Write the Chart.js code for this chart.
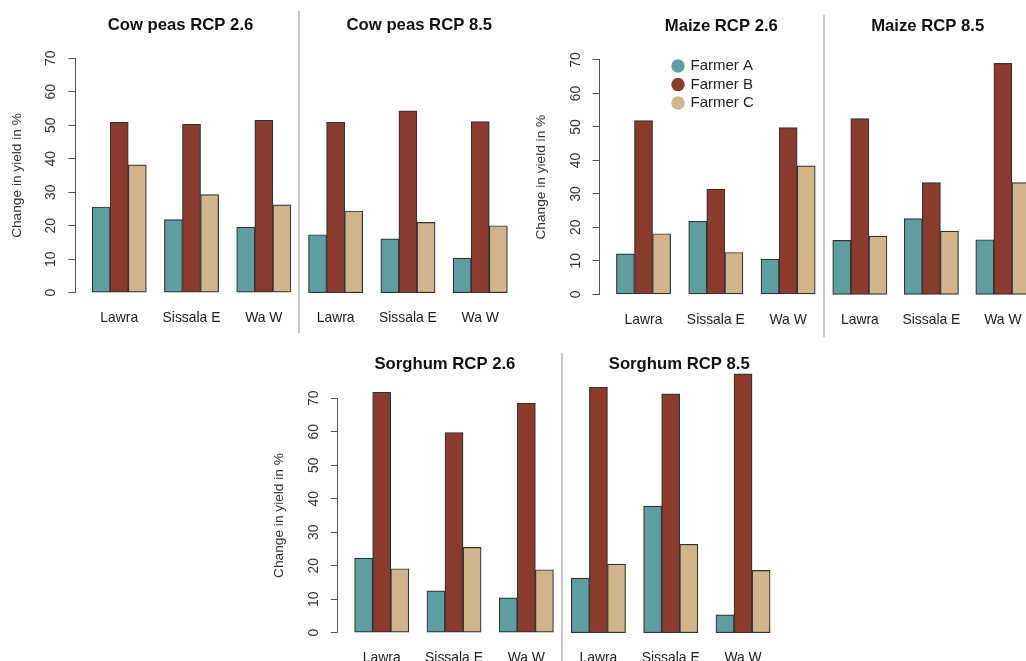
<!DOCTYPE html>
<html>
<head>
<meta charset="utf-8">
<script src="https://cdn.jsdelivr.net/npm/chart.js@4.4.1/dist/chart.umd.min.js"></script>
<style>
html, body { margin: 0; padding: 0; background: #ffffff; overflow: hidden; width: 1026px; height: 661px; position: relative; }
.sep { position: absolute; width: 2px; background: #c8c8c8; }
canvas { position: absolute; }
</style>
</head>
<body>
<div class="sep" style="left:298px;top:11px;height:322px;"></div>
<div class="sep" style="left:823px;top:15px;height:322px;"></div>
<div class="sep" style="left:561px;top:353px;height:308px;"></div>
<script>
// ---------- data ----------
const categories = ['Lawra', 'Sissala E', 'Wa W'];
const farmers = ['Farmer A', 'Farmer B', 'Farmer C'];
const farmerColors = ['#5F9EA0', '#8B3A2E', '#D2B48C'];
const yTickValues = [0, 10, 20, 30, 40, 50, 60, 70];
const yAxisLabel = 'Change in yield in %';

const cowPeas26A = [25.6, 21.8, 19.6];
const cowPeas26B = [50.9, 50.3, 51.5];
const cowPeas26C = [38.2, 29.3, 26.2];

const cowPeas85A = [17.3, 16.1, 10.3];
const cowPeas85B = [50.9, 54.3, 51.1];
const cowPeas85C = [24.4, 21.0, 20.0];

const maize26A = [12.1, 21.8, 10.5];
const maize26B = [51.9, 31.4, 49.8];
const maize26C = [18.1, 12.5, 38.4];

const maize85A = [16.1, 22.6, 16.3];
const maize85B = [52.5, 33.4, 69.0];
const maize85C = [17.4, 18.9, 33.4];

const sorghum26A = [22.3, 12.5, 10.4];
const sorghum26B = [71.8, 59.8, 68.5];
const sorghum26C = [19.1, 25.5, 18.8];

const sorghum85A = [16.3, 37.8, 5.3];
const sorghum85B = [73.3, 71.3, 77.3];
const sorghum85C = [20.5, 26.4, 18.6];

// ---------- layout ----------
const FONT = "'Liberation Sans', Arial, Helvetica, sans-serif";
const UNIT = 18.075;          // px per bar width
const X0 = 0.07;              // x scale start (units)
const GROUP_POS = [2.5, 6.5, 10.5];

const panels = [
  { title: 'Cow peas RCP 2.6', series: [cowPeas26A, cowPeas26B, cowPeas26C],
    x: 5, y: 14, w: 351, h: 320, pl: 0, pt: 0.98, yw: 70.3, tb: 23.26, xh: 41.32 },
  { title: 'Cow peas RCP 8.5', series: [cowPeas85A, cowPeas85B, cowPeas85C],
    x: 291, y: 14, w: 256, h: 320, pl: 0.7, pt: 0.98, yw: 0, tb: 23.26, xh: 41.32 },
  { title: 'Maize RCP 2.6', series: [maize26A, maize26B, maize26C],
    x: 529, y: 15, w: 384, h: 320, pl: 0.6, pt: 0.98, yw: 70, tb: 23.98, xh: 40.7 },
  { title: 'Maize RCP 8.5', series: [maize85A, maize85B, maize85C],
    x: 816, y: 15, w: 223, h: 320, pl: 0.4, pt: 0.98, yw: 0, tb: 23.98, xh: 40.7 },
  { title: 'Sorghum RCP 2.6', series: [sorghum26A, sorghum26B, sorghum26C],
    x: 267, y: 353, w: 355, h: 322, pl: 0.8, pt: 1.28, yw: 70, tb: 23.98, xh: 42.3 },
  { title: 'Sorghum RCP 8.5', series: [sorghum85A, sorghum85B, sorghum85C],
    x: 554, y: 353, w: 250, h: 322, pl: 0.5, pt: 1.28, yw: 0, tb: 23.98, xh: 42.3 }
];

function addCanvas(x, y, w, h) {
  const cv = document.createElement('canvas');
  cv.width = w; cv.height = h;
  cv.style.left = x + 'px'; cv.style.top = y + 'px';
  cv.style.width = w + 'px'; cv.style.height = h + 'px';
  document.body.appendChild(cv);
  return cv;
}

function makePanel(p) {
  const cv = addCanvas(p.x, p.y, p.w, p.h);
  const areaW = p.w - p.pl - p.yw;
  const hasY = p.yw > 0;
  new Chart(cv, {
    type: 'bar',
    data: {
      datasets: farmers.map((name, k) => ({
        label: name,
        data: categories.map((c, i) => ({ x: GROUP_POS[i], y: p.series[k][i] })),
        backgroundColor: farmerColors[k],
        borderColor: '#333333',
        borderWidth: 1.2,
        borderSkipped: false,
        barThickness: UNIT,
        clip: false
      }))
    },
    options: {
      responsive: false,
      animation: false,
      events: [],
      layout: { padding: { left: p.pl, top: p.pt, right: 0, bottom: 0 } },
      plugins: {
        legend: { display: false },
        tooltip: { enabled: false },
        title: {
          display: true, text: p.title, color: '#111111',
          font: { family: FONT, size: 16.7, weight: 'bold', lineHeight: 1.2 },
          padding: { top: 0, bottom: p.tb }
        }
      },
      scales: {
        x: {
          type: 'linear', min: X0, max: X0 + areaW / UNIT, offset: false,
          grid: { display: false, drawTicks: false },
          border: { display: false },
          afterBuildTicks: s => { s.ticks = GROUP_POS.map(v => ({ value: v })); },
          afterFit: s => { s.height = p.xh; },
          ticks: {
            autoSkip: false, minRotation: 0, maxRotation: 0, padding: 17.46,
            color: '#222222', font: { family: FONT, size: 13.9 },
            callback: (v, i) => categories[i]
          }
        },
        y: {
          display: hasY, min: 0, max: 70,
          afterBuildTicks: s => { s.ticks = yTickValues.map(v => ({ value: v })); },
          afterFit: s => { if (hasY) s.width = p.yw; },
          ticks: {
            minRotation: 90, maxRotation: 90, crossAlign: 'center', padding: 9.2,
            color: '#333333', font: { family: FONT, size: 13.9 }
          },
          grid: { drawOnChartArea: false, drawTicks: true, tickLength: 7, color: '#555555', lineWidth: 1 },
          border: { display: true, color: '#555555', width: 1 },
          title: {
            display: true, text: yAxisLabel, color: '#333333',
            font: { family: FONT, size: 13.7, lineHeight: 1.2 },
            padding: { top: 3.7, bottom: 0 }
          }
        }
      }
    }
  });
}

panels.forEach(makePanel);

// legend (drawn by Chart.js legend plugin)
const lg = addCanvas(669, 55, 320, 80);
new Chart(lg, {
  type: 'bar',
  data: {
    labels: [],
    datasets: farmers.map((name, k) => ({ label: name, data: [], backgroundColor: farmerColors[k], borderWidth: 0 }))
  },
  options: {
    responsive: false, animation: false, events: [],
    layout: { padding: { left: 0.5, top: 0, right: 0, bottom: 0 } },
    scales: { x: { display: false }, y: { display: false } },
    plugins: {
      tooltip: { enabled: false },
      title: { display: false },
      legend: {
        display: true, position: 'left', align: 'start',
        labels: {
          usePointStyle: true, pointStyle: 'circle', boxWidth: 10, boxHeight: 9.5, padding: 3.5,
          color: '#222222', font: { family: FONT, size: 15 }
        }
      }
    }
  }
});
</script>
</body>
</html>
